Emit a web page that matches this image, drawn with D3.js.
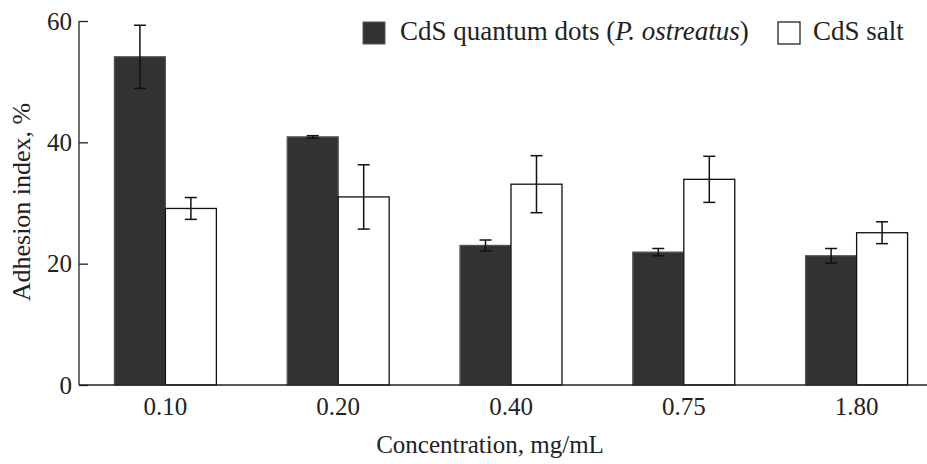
<!DOCTYPE html>
<html>
<head>
<meta charset="utf-8">
<script src="https://cdn.jsdelivr.net/npm/d3@7"></script>
<style>
    body { margin: 0; background: #fff; }
</style>
</head>
<body>
<svg id="chart" width="927" height="464"></svg>
<script>

let categories = ['0.10', '0.20', '0.40', '0.75', '1.80'],
    series_names = ['CdS quantum dots', 'CdS salt'],
    qd_values = [54.1, 40.9, 23.0, 21.9, 21.3],
    qd_errors = [5.2, 0.2, 0.9, 0.6, 1.2],
    salt_values = [29.1, 31.0, 33.1, 33.9, 25.1],
    salt_errors = [1.8, 5.3, 4.7, 3.8, 1.8],
    y_ticks = [0, 20, 40, 60];

let svg = d3.select('#chart').attr('font-family', 'Liberation Serif'),
    serif = 'Liberation Serif',
    plot_left = 79,
    plot_bottom = 385,
    plot_top = 21,
    font_size = 25,
    legend_size = 27;

let x = d3.scaleBand()
    .domain(categories)
    .range([plot_left, plot_left + 5 * 172.8])
    .paddingInner(0.41)
    .paddingOuter(0.205);

let sub = d3.scaleBand()
    .domain(series_names)
    .range([0, x.bandwidth()]);

let y = d3.scaleLinear()
    .domain([0, 60])
    .range([plot_bottom, plot_top]);

let rows = categories.map((c, i) => [
    { cat: c, s: series_names[0], v: qd_values[i], e: qd_errors[i] },
    { cat: c, s: series_names[1], v: salt_values[i], e: salt_errors[i] }
]).flat();

// bars
svg.append('g')
    .selectAll('rect')
    .data(rows)
    .join('rect')
    .attr('x', d => x(d.cat) + sub(d.s))
    .attr('y', d => y(d.v))
    .attr('width', sub.bandwidth())
    .attr('height', d => y(0) - y(d.v))
    .attr('fill', d => d.s === series_names[0] ? '#323230' : '#fff')
    .attr('stroke', d => d.s === series_names[0] ? '#555' : '#111')
    .attr('stroke-width', 1.3);

// error bars
let err = svg.append('g')
    .attr('stroke', '#111')
    .attr('stroke-width', 1.5)
    .selectAll('g')
    .data(rows)
    .join('g')
    .attr('transform', d => 'translate(' + (x(d.cat) + sub(d.s) + sub.bandwidth() / 2) + ',0)');

err.append('line')
    .attr('y1', d => y(d.v + d.e))
    .attr('y2', d => y(d.v - d.e));
err.append('line')
    .attr('x1', -6).attr('x2', 6)
    .attr('y1', d => y(d.v + d.e))
    .attr('y2', d => y(d.v + d.e));
err.append('line')
    .attr('x1', -6).attr('x2', 6)
    .attr('y1', d => y(d.v - d.e))
    .attr('y2', d => y(d.v - d.e));

// y axis, ticks point inward
let y_axis = svg.append('g')
    .attr('transform', 'translate(' + plot_left + ',0)')
    .call(d3.axisRight(y).tickValues(y_ticks).tickSize(9).tickFormat(''));
y_axis.select('.domain').attr('stroke', '#222').attr('stroke-width', 1.3).attr('d', 'M0,' + plot_top + 'V' + plot_bottom);
y_axis.selectAll('.tick line').attr('stroke', '#222').attr('stroke-width', 1.3);

svg.append('g')
    .selectAll('text')
    .data(y_ticks)
    .join('text')
    .attr('x', plot_left - 7)
    .attr('y', d => y(d))
    .attr('dy', '0.35em')
    .attr('text-anchor', 'end')
    .attr('font-family', serif)
    .attr('font-size', font_size)
    .attr('fill', '#222')
    .text(d => d);

// x axis
let x_axis = svg.append('g')
    .attr('transform', 'translate(0,' + plot_bottom + ')')
    .call(d3.axisBottom(x).tickSize(0).tickPadding(12));
x_axis.attr('font-family', serif).attr('font-size', font_size);
x_axis.select('.domain').attr('stroke', '#222').attr('stroke-width', 1.3).attr('d', 'M' + plot_left + ',0H927');
x_axis.selectAll('text')
    .attr('font-family', serif)
    .attr('font-size', font_size)
    .attr('fill', '#222')
    .attr('dy', '0.72em');

// axis titles
svg.append('text')
    .attr('x', 490)
    .attr('y', 453)
    .attr('text-anchor', 'middle')
    .attr('font-family', serif)
    .attr('font-size', font_size)
    .attr('fill', '#222')
    .text('Concentration, mg/mL');

svg.append('text')
    .attr('transform', 'translate(30,202) rotate(-90)')
    .attr('text-anchor', 'middle')
    .attr('font-family', serif)
    .attr('font-size', font_size + 1)
    .attr('fill', '#222')
    .text('Adhesion index, %');

// legend
let legend = svg.append('g');
legend.append('rect')
    .attr('x', 363).attr('y', 22).attr('width', 22).attr('height', 22)
    .attr('fill', '#323230').attr('stroke', '#555');
let label = legend.append('text')
    .attr('x', 400).attr('y', 39.5)
    .attr('font-family', serif)
    .attr('font-size', legend_size)
    .attr('fill', '#222');
label.append('tspan').text('CdS quantum dots (');
label.append('tspan').attr('font-style', 'italic').text('P. ostreatus');
label.append('tspan').text(')');

legend.append('rect')
    .attr('x', 778).attr('y', 22).attr('width', 22).attr('height', 22)
    .attr('fill', '#fff').attr('stroke', '#111').attr('stroke-width', 1.2);
legend.append('text')
    .attr('x', 813).attr('y', 39.5)
    .attr('font-family', serif)
    .attr('font-size', legend_size)
    .attr('fill', '#222')
    .text('CdS salt');

</script>
</body>
</html>
